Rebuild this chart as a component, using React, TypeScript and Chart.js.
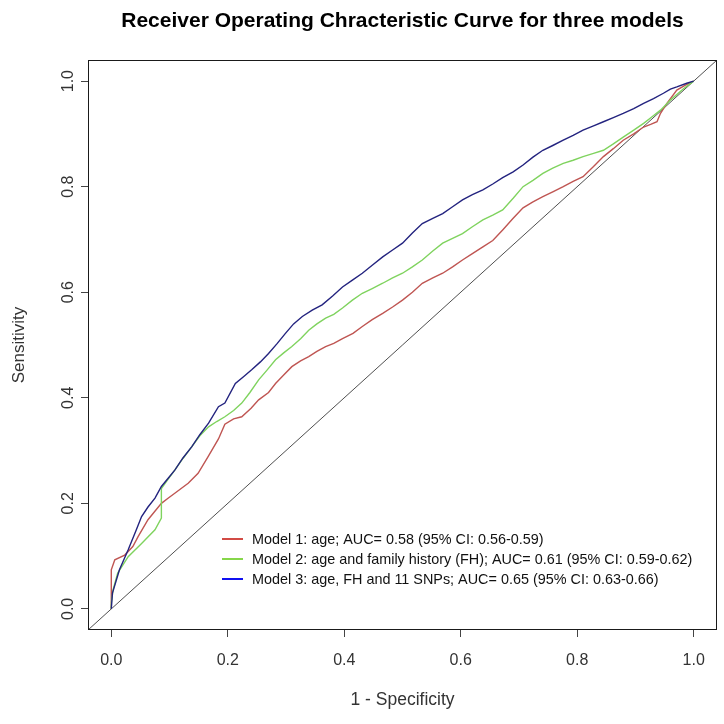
import { useEffect, useRef } from "react";
import { Chart, registerables } from "chart.js";

Chart.register(...registerables);

// ---------- text ----------
const TITLE = "Receiver Operating Chracteristic Curve for three models";
const X_TITLE = "1 - Specificity";
const Y_TITLE = "Sensitivity";
const TICKS = [0, 0.2, 0.4, 0.6, 0.8, 1.0];
const AXIS_MIN = -0.04;
const AXIS_MAX = 1.04;

const SERIES_LABELS = [
  "Model 1: age; AUC= 0.58 (95% CI: 0.56-0.59)",
  "Model 2: age and family history (FH); AUC= 0.61 (95% CI: 0.59-0.62)",
  "Model 3: age, FH and 11 SNPs; AUC= 0.65 (95% CI: 0.63-0.66)",
];
const LINE_COLORS = ["#bf5552", "#7fd35e", "#23237f"];
const LEGEND_COLORS = ["#d24b45", "#86d64a", "#1010f0"];

// ---------- data (1 - specificity, sensitivity) ----------
const fpr1 = [0, 0, 0.006, 0.023, 0.037, 0.046, 0.063, 0.086, 0.098, 0.109, 0.132, 0.149, 0.167, 0.184, 0.195, 0.21, 0.224, 0.24, 0.253, 0.27, 0.282, 0.296, 0.31, 0.325, 0.339, 0.353, 0.368, 0.382, 0.397, 0.415, 0.431, 0.448, 0.466, 0.483, 0.5, 0.517, 0.534, 0.552, 0.569, 0.586, 0.603, 0.62, 0.638, 0.655, 0.672, 0.69, 0.707, 0.724, 0.741, 0.758, 0.776, 0.793, 0.81, 0.828, 0.845, 0.862, 0.879, 0.897, 0.914, 0.926, 0.937, 0.943, 0.954, 0.971, 0.985, 1.0];
const tpr1 = [0, 0.074, 0.093, 0.102, 0.118, 0.137, 0.169, 0.2, 0.21, 0.219, 0.238, 0.257, 0.29, 0.322, 0.35, 0.36, 0.364, 0.38, 0.396, 0.41, 0.427, 0.443, 0.459, 0.47, 0.478, 0.488, 0.497, 0.503, 0.512, 0.522, 0.535, 0.548, 0.56, 0.572, 0.585, 0.6, 0.617, 0.627, 0.636, 0.648, 0.661, 0.673, 0.686, 0.698, 0.718, 0.74, 0.76, 0.771, 0.781, 0.79, 0.8, 0.81, 0.819, 0.838, 0.857, 0.872, 0.888, 0.9, 0.913, 0.918, 0.923, 0.939, 0.958, 0.983, 0.992, 1.0];

const fpr2 = [0, 0, 0.003, 0.011, 0.029, 0.052, 0.075, 0.086, 0.086, 0.097, 0.109, 0.123, 0.138, 0.152, 0.167, 0.181, 0.195, 0.21, 0.224, 0.238, 0.253, 0.267, 0.282, 0.296, 0.31, 0.325, 0.339, 0.353, 0.368, 0.382, 0.397, 0.414, 0.431, 0.448, 0.466, 0.483, 0.5, 0.517, 0.534, 0.552, 0.569, 0.586, 0.603, 0.62, 0.638, 0.655, 0.672, 0.69, 0.707, 0.724, 0.741, 0.758, 0.776, 0.793, 0.81, 0.828, 0.845, 0.862, 0.879, 0.897, 0.914, 0.928, 0.943, 0.96, 0.983, 1.0];
const tpr2 = [0, 0.011, 0.036, 0.068, 0.099, 0.124, 0.15, 0.172, 0.228, 0.245, 0.263, 0.285, 0.307, 0.328, 0.345, 0.355, 0.364, 0.376, 0.39, 0.41, 0.434, 0.452, 0.472, 0.485, 0.497, 0.512, 0.528, 0.54, 0.551, 0.558, 0.57, 0.585, 0.598, 0.607, 0.617, 0.627, 0.636, 0.648, 0.661, 0.678, 0.693, 0.702, 0.711, 0.724, 0.737, 0.746, 0.756, 0.778, 0.8, 0.812, 0.825, 0.835, 0.844, 0.85, 0.857, 0.863, 0.869, 0.881, 0.894, 0.907, 0.92, 0.932, 0.945, 0.964, 0.986, 1.0];

const fpr3 = [0, 0.002, 0.014, 0.029, 0.043, 0.052, 0.063, 0.075, 0.086, 0.098, 0.109, 0.123, 0.138, 0.152, 0.167, 0.184, 0.195, 0.213, 0.227, 0.241, 0.256, 0.27, 0.285, 0.299, 0.313, 0.328, 0.345, 0.362, 0.38, 0.397, 0.414, 0.431, 0.448, 0.466, 0.483, 0.5, 0.517, 0.534, 0.552, 0.569, 0.586, 0.603, 0.62, 0.638, 0.655, 0.672, 0.69, 0.707, 0.724, 0.741, 0.758, 0.776, 0.793, 0.81, 0.828, 0.845, 0.862, 0.879, 0.897, 0.914, 0.931, 0.948, 0.96, 0.971, 0.988, 1.0];
const tpr3 = [0, 0.03, 0.074, 0.112, 0.15, 0.175, 0.193, 0.21, 0.232, 0.248, 0.263, 0.286, 0.307, 0.33, 0.352, 0.383, 0.39, 0.427, 0.44, 0.453, 0.468, 0.484, 0.503, 0.522, 0.54, 0.554, 0.566, 0.576, 0.593, 0.61, 0.623, 0.636, 0.651, 0.667, 0.68, 0.693, 0.712, 0.73, 0.74, 0.749, 0.762, 0.775, 0.785, 0.794, 0.805, 0.817, 0.828, 0.841, 0.856, 0.869, 0.878, 0.888, 0.897, 0.907, 0.915, 0.923, 0.931, 0.939, 0.948, 0.958, 0.967, 0.977, 0.985, 0.989, 0.996, 1.0];

const diagX = [AXIS_MIN, AXIS_MAX];
const diagY = [AXIS_MIN, AXIS_MAX];

const FONT = "'Liberation Sans', Arial, Helvetica, sans-serif";

const toPts = (xs: number[], ys: number[]) => xs.map((x, i) => ({ x, y: ys[i] }));

const boxLegendPlugin = {
  id: "boxLegend",
  afterDatasetsDraw(chart: any) {
    const { ctx, chartArea: a } = chart;
    ctx.save();
    ctx.strokeStyle = "#1a1a1a";
    ctx.lineWidth = 1;
    ctx.strokeRect(Math.round(a.left) + 0.5, Math.round(a.top) + 0.5, Math.round(a.right - a.left) - 1, Math.round(a.bottom - a.top) - 1);

    // legend
    const lx = a.left + 134;
    const ty = a.top + 479;
    ctx.font = `14.4px ${FONT}`;
    ctx.textBaseline = "middle";
    ctx.textAlign = "left";
    SERIES_LABELS.forEach((label, i) => {
      const y = ty + i * 20;
      ctx.strokeStyle = LEGEND_COLORS[i];
      ctx.lineWidth = 2;
      ctx.beginPath();
      ctx.moveTo(lx, y);
      ctx.lineTo(lx + 21, y);
      ctx.stroke();
      ctx.fillStyle = "#111";
      ctx.fillText(label, lx + 30, y + 1);
    });
    ctx.restore();
  },
};

export default function App() {
  const ref = useRef<HTMLCanvasElement | null>(null);

  useEffect(() => {
    if (!ref.current) return;
    const setTicks = (scale: any) => {
      scale.ticks = TICKS.map((v) => ({ value: v }));
    };
    const axisCommon = {
      type: "linear" as const,
      min: AXIS_MIN,
      max: AXIS_MAX,
      afterBuildTicks: setTicks,
      border: { display: false },
      grid: {
        display: true,
        drawOnChartArea: false,
        drawTicks: true,
        tickLength: 7,
        color: "#444",
        lineWidth: 1,
      },
    };
    const chart = new Chart(ref.current, {
      type: "scatter",
      data: {
        datasets: [
          {
            label: SERIES_LABELS[0],
            data: toPts(fpr1, tpr1),
            borderColor: LINE_COLORS[0],
            borderWidth: 1.4,
            showLine: true,
            pointRadius: 0,
            order: 2,
          },
          {
            label: SERIES_LABELS[1],
            data: toPts(fpr2, tpr2),
            borderColor: LINE_COLORS[1],
            borderWidth: 1.4,
            showLine: true,
            pointRadius: 0,
            order: 1,
          },
          {
            label: SERIES_LABELS[2],
            data: toPts(fpr3, tpr3),
            borderColor: LINE_COLORS[2],
            borderWidth: 1.4,
            showLine: true,
            pointRadius: 0,
            order: 0,
          },
          {
            label: "diagonal",
            data: toPts(diagX, diagY),
            borderColor: "#222",
            borderWidth: 0.8,
            showLine: true,
            pointRadius: 0,
            order: 3,
          },
        ],
      },
      options: {
        animation: false,
        responsive: false,
        layout: { padding: { left: 0, right: 7, top: 0, bottom: 0 } },
        plugins: {
          legend: { display: false },
          tooltip: { enabled: false },
          title: {
            display: true,
            text: TITLE,
            fullSize: false,
            color: "#000",
            font: { family: FONT, size: 21, weight: "bold" },
            padding: { top: 9, bottom: 25.8 },
          },
        },
        scales: {
          x: {
            ...axisCommon,
            position: "bottom",
            afterFit: (s: any) => {
              s.height = 94;
            },
            ticks: {
              color: "#333",
              font: { family: FONT, size: 16 },
              padding: 14,
              callback: (v: any) => Number(v).toFixed(1),
            },
            title: {
              display: true,
              text: X_TITLE,
              color: "#333",
              font: { family: FONT, size: 17.5 },
              padding: { top: 0, bottom: 13 },
            },
          },
          y: {
            ...axisCommon,
            position: "left",
            afterFit: (s: any) => {
              s.width = 88;
            },
            ticks: {
              color: "#333",
              font: { family: FONT, size: 16 },
              padding: 1,
              minRotation: 90,
              maxRotation: 90,
              crossAlign: "center",
              callback: (v: any) => Number(v).toFixed(1),
            },
            title: {
              display: true,
              text: Y_TITLE,
              color: "#333",
              font: { family: FONT, size: 17 },
              padding: { top: 9, bottom: 0 },
            },
          },
        },
      },
      plugins: [boxLegendPlugin],
    } as any);
    return () => chart.destroy();
  }, []);

  return (
    <div style={{ position: "absolute", left: 0, top: 0, width: 724, height: 724, background: "#fff" }}>
      <canvas ref={ref} width={724} height={724} style={{ width: 724, height: 724, display: "block" }} />
    </div>
  );
}
